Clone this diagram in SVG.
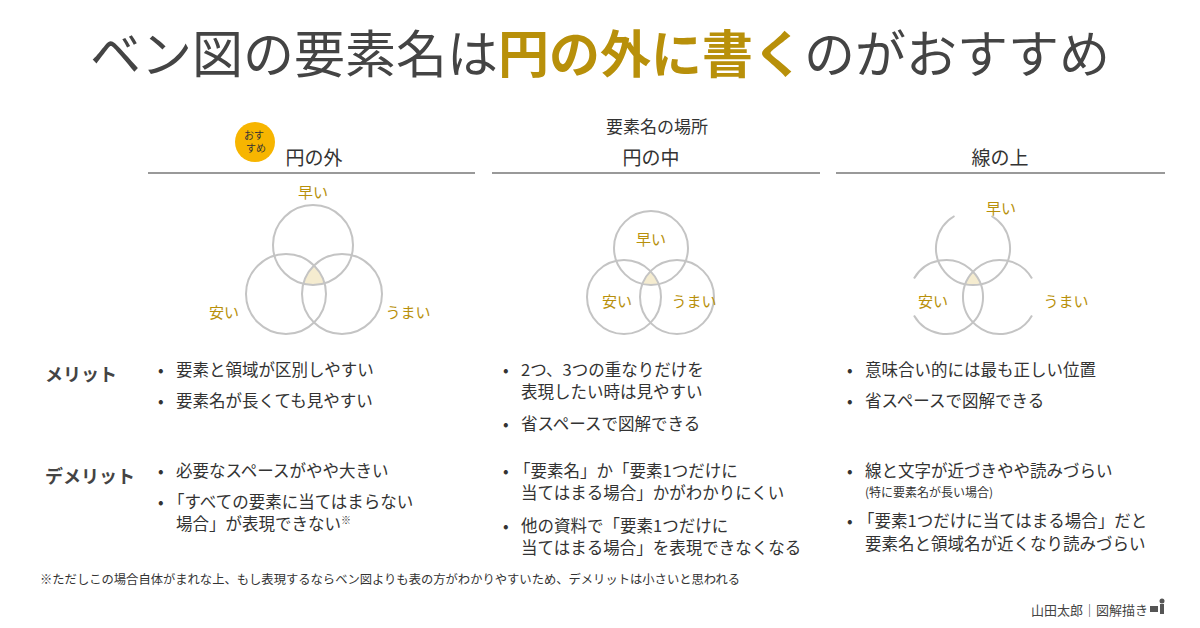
<svg xmlns="http://www.w3.org/2000/svg" width="1200" height="628" viewBox="0 0 1200 628">
<style>
text{font-family:"Noto Sans CJK JP","Noto Sans",sans-serif;fill:#333}
.t{font-size:16.5px}
.g{fill:#b8900a;font-size:15px}
.h{font-size:19px;text-anchor:middle}
.c{fill:none;stroke:#c4c4c4;stroke-width:2}
.r{font-size:18px;font-weight:bold;fill:#444}
.ln{stroke:#999;stroke-width:2}
</style>
<defs>
<clipPath id="ca"><circle cx="313" cy="245" r="40"/></clipPath>
<clipPath id="cb"><circle cx="286" cy="294" r="40"/></clipPath>
<clipPath id="ma"><circle cx="651" cy="248" r="37"/></clipPath>
<clipPath id="mb"><circle cx="624" cy="297" r="37"/></clipPath>
<clipPath id="ra"><circle cx="973" cy="248" r="37"/></clipPath>
<clipPath id="rb"><circle cx="946" cy="297" r="37"/></clipPath>
</defs>
<text x="600" y="73" text-anchor="middle" style="font-size:51px;fill:#444">ベン図の要素名は<tspan style="fill:#b8900a;font-weight:bold">円の外に書く</tspan>のがおすすめ</text>
<text x="657" y="133" class="h" style="font-size:17px">要素名の場所</text>
<g id="col1">
<circle cx="255" cy="142" r="20" fill="#f7b500"/>
<text x="254" y="139" text-anchor="middle" style="font-size:10px">おす</text>
<text x="256" y="152" text-anchor="middle" style="font-size:10px">すめ</text>
<text x="314" y="165" class="h">円の外</text>
<line x1="148" y1="173" x2="475" y2="173" class="ln"/>
<g clip-path="url(#ca)"><g clip-path="url(#cb)"><circle cx="342" cy="294" r="40" fill="#f5ecd0"/></g></g>
<circle cx="313" cy="245" r="40" class="c"/><circle cx="286" cy="294" r="40" class="c"/><circle cx="342" cy="294" r="40" class="c"/>
<text x="313" y="198" class="g" text-anchor="middle">早い</text>
<text x="224" y="318" class="g" text-anchor="middle">安い</text>
<text x="408" y="318" class="g" text-anchor="middle">うまい</text>
</g>
<g id="col2">
<text x="651" y="165" class="h">円の中</text>
<line x1="492" y1="173" x2="820" y2="173" class="ln"/>
<g clip-path="url(#ma)"><g clip-path="url(#mb)"><circle cx="677" cy="297" r="37" fill="#f5ecd0"/></g></g>
<circle cx="651" cy="248" r="37" class="c"/><circle cx="624" cy="297" r="37" class="c"/><circle cx="677" cy="297" r="37" class="c"/>
<text x="651" y="245" class="g" text-anchor="middle">早い</text>
<text x="617" y="307" class="g" text-anchor="middle">安い</text>
<text x="694" y="307" class="g" text-anchor="middle">うまい</text>
</g>
<g id="col3">
<text x="1000" y="165" class="h">線の上</text>
<line x1="836" y1="173" x2="1165" y2="173" class="ln"/>
<g clip-path="url(#ra)"><g clip-path="url(#rb)"><circle cx="1000" cy="297" r="37" fill="#f5ecd0"/></g></g>
<path class="c" d="M991.5,216 A37,37 0 1 1 954.5,216"/>
<path class="c" d="M914,278.5 A37,37 0 1 1 914,315.5"/>
<path class="c" d="M1032,315.5 A37,37 0 1 1 1032,278.5"/>
<text x="1001" y="214" class="g" text-anchor="middle">早い</text>
<text x="933" y="307" class="g" text-anchor="middle">安い</text>
<text x="1066" y="307" class="g" text-anchor="middle">うまい</text>
</g>
<g id="rows">
<text x="45" y="381" class="r">メリット</text>
<text x="45" y="483" class="r">デメリット</text>
<text x="158" y="376" class="t">•</text><text x="176" y="376" class="t">要素と領域が区別しやすい</text>
<text x="158" y="407" class="t">•</text><text x="176" y="407" class="t">要素名が長くても見やすい</text>
<text x="503" y="376" class="t">•</text><text x="521" y="376" class="t">2つ、3つの重なりだけを</text>
<text x="521" y="398" class="t">表現したい時は見やすい</text>
<text x="503" y="430" class="t">•</text><text x="521" y="430" class="t">省スペースで図解できる</text>
<text x="847" y="376" class="t">•</text><text x="865" y="376" class="t">意味合い的には最も正しい位置</text>
<text x="847" y="407" class="t">•</text><text x="865" y="407" class="t">省スペースで図解できる</text>
<text x="158" y="477" class="t">•</text><text x="176" y="477" class="t">必要なスペースがやや大きい</text>
<text x="158" y="508" class="t">•</text><text x="168" y="508" class="t">「すべての要素に当てはまらない</text>
<text x="176" y="530" class="t">場合」が表現できない<tspan style="font-size:10px" dy="-6">※</tspan></text>
<text x="503" y="477" class="t">•</text><text x="514" y="477" class="t">「要素名」か「要素1つだけに</text>
<text x="521" y="499" class="t">当てはまる場合」かがわかりにくい</text>
<text x="503" y="532" class="t">•</text><text x="521" y="532" class="t">他の資料で「要素1つだけに</text>
<text x="521" y="554" class="t">当てはまる場合」を表現できなくなる</text>
<text x="847" y="477" class="t">•</text><text x="865" y="477" class="t">線と文字が近づきやや読みづらい</text>
<text x="865" y="497" style="font-size:12px">(特に要素名が長い場合)</text>
<text x="847" y="527" class="t">•</text><text x="858" y="527" class="t">「要素1つだけに当てはまる場合」だと</text>
<text x="865" y="550" class="t">要素名と領域名が近くなり読みづらい</text>
<text x="40" y="584" style="font-size:12.3px">※ただしこの場合自体がまれな上、もし表現するならベン図よりも表の方がわかりやすいため、デメリットは小さいと思われる</text>
<text x="1148" y="615" text-anchor="end" style="font-size:13px;fill:#444">山田太郎｜図解描き</text>
<g fill="#555"><rect x="1150" y="606" width="8" height="6"/><circle cx="1162" cy="601" r="2.5"/><path d="M1160,604 h4 v10 h-4z"/></g>
</g>
</svg>
